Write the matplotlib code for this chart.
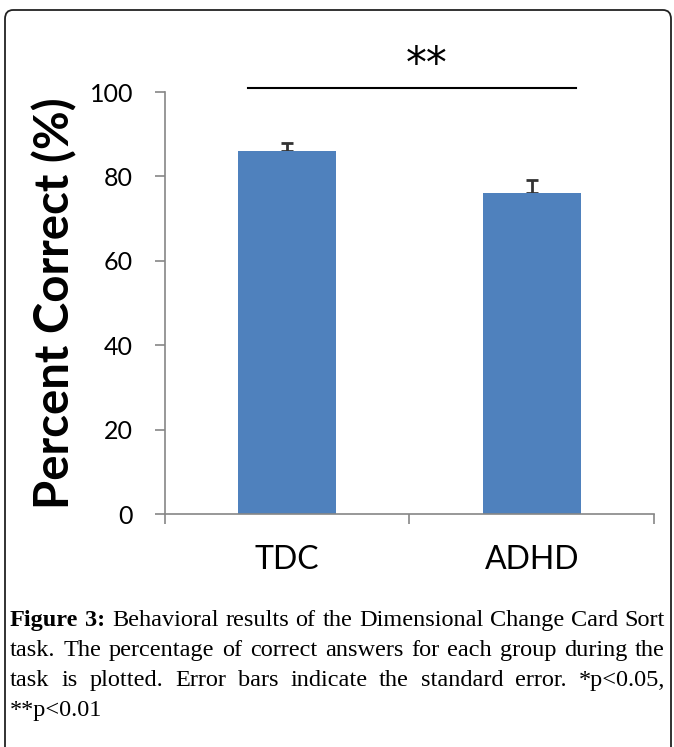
import matplotlib.pyplot as plt
from matplotlib.patches import FancyBboxPatch

groups = ['TDC', 'ADHD']
percent_correct = [86.0, 76.0]
std_error = [1.9, 3.2]
y_ticks = [0, 20, 40, 60, 80, 100]
sig_label = '**'

caption_lines = [
    'Figure 3: Behavioral results of the Dimensional Change Card Sort',
    'task. The percentage of correct answers for each group during the',
    'task is plotted. Error bars indicate the standard error. *p<0.05,',
    '**p<0.01',
]

fig = plt.figure(figsize=(6.74, 7.47), dpi=100)

# rounded frame around the whole figure (runs off the bottom edge)
frame = FancyBboxPatch((5 / 674, -0.05), 666 / 674, 1 - 10 / 747 + 0.05,
                       boxstyle='round,pad=0,rounding_size=0.012',
                       transform=fig.transFigure, fill=False,
                       edgecolor='#222222', linewidth=1.3)
fig.patches.append(frame)

ax = fig.add_axes([0.2448, 0.3119, 0.7255, 0.5649])
x = list(range(len(groups)))
ax.bar(x, percent_correct, width=0.4, color='#4F81BD', zorder=2)
ax.errorbar(x, percent_correct, yerr=[[0] * len(x), std_error], fmt='none',
            ecolor='#333333', elinewidth=2, capsize=4, capthick=2, zorder=1)

ax.set_xlim(-0.5, 1.5)
ax.set_ylim(0, 100)
ax.set_yticks(y_ticks)
ax.set_xticks(x, groups)
ax.set_xticks([-0.5, 0.5, 1.5], minor=True)
ax.tick_params(axis='x', which='major', length=0, pad=22, labelsize=23)
ax.tick_params(axis='x', which='minor', length=7, width=1.2, color='#868686')
ax.tick_params(axis='y', length=7, width=1.2, color='#868686', pad=16, labelsize=18)
for lab in ax.get_xticklabels() + ax.get_yticklabels():
    lab.set_family('Lato')

for s in ['top', 'right']:
    ax.spines[s].set_visible(False)
for s in ['left', 'bottom']:
    ax.spines[s].set_color('#868686')
    ax.spines[s].set_linewidth(1.2)

ax.set_ylabel('Percent Correct (%)', fontsize=34, fontweight='bold',
              family='Lato', labelpad=9)

# significance bracket
ax.plot([-0.16, 1.18], [101, 101], color='black', lw=1.5, clip_on=False)
ax.text(0.57, 106.5, sig_label, ha='center', va='center', fontsize=30,
        family='DejaVu Sans', clip_on=False)

# justified caption
renderer = fig.canvas.get_renderer()
x0, x1 = 10 / 674, 665 / 674
base = 1 - 626 / 747
step = 30 / 747
cap_kw = dict(family='Liberation Serif', fontsize=17.5)
for i, line in enumerate(caption_lines):
    words = line.split(' ')
    bold = [i == 0 and j < 2 for j in range(len(words))]
    widths = []
    for w, b in zip(words, bold):
        t = fig.text(0, 0, w, fontweight='bold' if b else 'normal', **cap_kw)
        widths.append(t.get_window_extent(renderer).width / fig.bbox.width)
        t.remove()
    y = base - i * step
    if i < len(caption_lines) - 1 and len(words) > 1:
        gap = (x1 - x0 - sum(widths)) / (len(words) - 1)
    else:
        gap = 5 / 674
    xp = x0
    for w, b, wd in zip(words, bold, widths):
        fig.text(xp, y, w, fontweight='bold' if b else 'normal',
                 va='baseline', ha='left', **cap_kw)
        xp += wd + gap

fig.savefig('out.png', dpi=100)
